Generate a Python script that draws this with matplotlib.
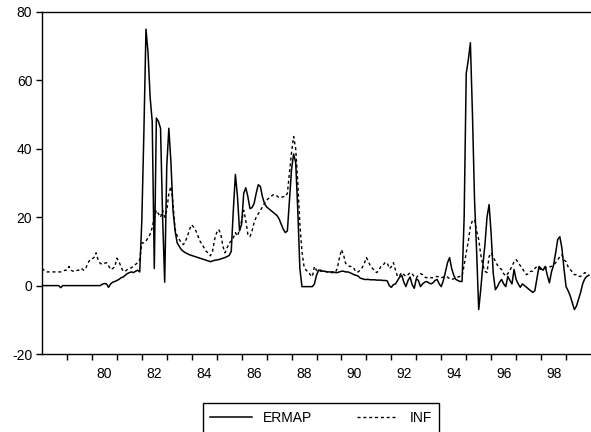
import numpy as np
import matplotlib
matplotlib.use("Agg")
import matplotlib.pyplot as plt
from matplotlib.lines import Line2D

# monthly values, 1978M01 - 1999M12, one row per year
ermap = [
    [0, 0, 0, 0, 0, 0, 0, 0, 0, -0.6, 0, 0],                               # 1978
    [0, 0, 0, 0, 0, 0, 0, 0, 0, 0, 0, 0],                                  # 1979
    [0, 0, 0, 0, 0, 0.4, 0.6, 0.5, -0.5, 0.5, 1.0, 1.2],                   # 1980
    [1.5, 1.8, 2.3, 2.5, 3.0, 3.5, 3.8, 4.0, 3.8, 4.2, 4.5, 4.0],          # 1981
    [19, 45, 75, 68, 55, 48, 5, 49, 48, 46, 20, 1],                        # 1982
    [35, 46, 36, 22, 16, 12.5, 11.5, 10.5, 10, 9.6, 9.3, 9.0],             # 1983
    [8.8, 8.6, 8.4, 8.2, 8.0, 7.8, 7.6, 7.4, 7.2, 7.0, 7.2, 7.4],          # 1984
    [7.5, 7.6, 7.8, 8, 8.2, 8.5, 8.8, 10, 22, 32.5, 26, 16],               # 1985
    [18, 27, 28.6, 26, 22.5, 22.8, 24, 27, 29.5, 29, 26, 24],              # 1986
    [23, 22.5, 22, 21.5, 21, 20.5, 19.5, 18, 16.5, 15.5, 16, 25],          # 1987
    [34, 38.5, 36, 22, 5, -0.3, -0.3, -0.3, -0.3, -0.3, -0.3, 0.5],        # 1988
    [3, 4.5, 4.5, 4.2, 4.2, 4, 4, 4, 4, 3.8, 3.8, 4],                      # 1989
    [4.2, 4.2, 4, 4, 3.8, 3.5, 3.2, 3, 2.8, 2.2, 2, 1.8],                  # 1990
    [1.8, 1.8, 1.7, 1.7, 1.7, 1.6, 1.6, 1.6, 1.5, 1.5, 1.4, 0],            # 1991
    [-0.5, 0.3, 0.5, 1.5, 2.5, 3, 1, -0.3, 1.5, 2.5, 0.3, -0.8],           # 1992
    [2, 1.5, -0.3, 0.5, 1, 1.2, 0.8, 0.5, 0.8, 1.5, 1.8, 0.5],             # 1993
    [-0.3, 1.5, 4, 6.7, 8.2, 5, 3, 1.8, 1.5, 1.2, 1.2, 20],                # 1994
    [62, 66, 71, 50, 25, 10, -7, -1, 6, 12, 20, 23.7],                     # 1995
    [15, 3.5, -1.2, -0.3, 1, 1.8, 0.5, -0.3, 2.7, 1.5, 0.5, 4.7],          # 1996
    [1.8, 0.5, -0.5, 0.5, 0, -0.5, -1, -1.5, -2, -1.5, 2, 5.6],            # 1997
    [5, 4.5, 5.6, 3, 0.8, 4, 6, 9.6, 13.5, 14.3, 11, 5],                   # 1998
    [-0.3, -1.5, -3, -5, -7, -6, -4, -2, 0.5, 2, 2.7, 3],                  # 1999
]

inf = [
    [5, 4.5, 4, 4, 4, 4, 4, 4, 4, 4, 4.2, 4.5],                            # 1978
    [4.5, 5.6, 4.5, 4.2, 4.2, 4.5, 4.5, 5, 4.5, 5, 6.5, 7.5],              # 1979
    [7.8, 8.2, 9.6, 7.5, 6.5, 6.2, 6.5, 6.7, 5.8, 4.7, 5, 5.5],            # 1980
    [8, 7, 5.5, 4.2, 4.2, 4.7, 5, 5.2, 5.8, 6.2, 6.7, 7.6],                # 1981
    [12.5, 12.5, 13, 14, 15, 17, 20, 22, 21, 20, 22, 20],                  # 1982
    [22, 27, 29, 24, 16.5, 14.5, 13.5, 12.5, 12, 13, 14.5, 16.5],          # 1983
    [17.8, 17, 16, 14.5, 13, 12, 11, 10, 9.5, 8.7, 10, 13.5],              # 1984
    [15.5, 16.4, 15, 11.5, 9.6, 11, 12.5, 13, 14, 15.5, 14.5, 16.4],       # 1985
    [19, 22, 19, 15, 14.3, 16, 18.4, 20, 21, 22, 23, 24],                  # 1986
    [25, 25.5, 26, 26.5, 26.6, 26.2, 25.7, 25.8, 26, 26, 27, 33],          # 1987
    [39, 43.6, 40, 30, 18, 10, 5.6, 4.5, 4, 3.2, 2.6, 5.6],                # 1988
    [4.5, 4, 4.2, 4.5, 4.2, 4, 4, 3.8, 3.8, 3.8, 5, 8],                    # 1989
    [10.5, 9, 6.5, 6, 5.6, 5.6, 5, 4, 4, 4.5, 5.3, 6.5],                   # 1990
    [8.2, 7, 5.6, 5, 4.2, 3.8, 4.5, 5.6, 6, 6.7, 6.7, 5],                  # 1991
    [5.5, 6.7, 4.5, 2.6, 3, 3.8, 3.2, 2.7, 3.2, 3.8, 3.5, 2.5],            # 1992
    [2.3, 3, 3.5, 3.2, 2.5, 2.3, 2.5, 2.3, 2.3, 2.5, 2.7, 2.5],            # 1993
    [2.3, 2.5, 2.7, 2.5, 2, 1.8, 2, 2.3, 2.5, 2.7, 2.7, 6],                # 1994
    [9.6, 13, 17.3, 19, 19.3, 16, 13.5, 9, 6, 4.2, 3.8, 8.5],              # 1995
    [9.6, 8.5, 7, 6, 5.2, 4.7, 3.5, 2.8, 3.5, 4.5, 5.6, 7],                # 1996
    [7.6, 6.8, 5.8, 5, 4, 3.2, 3.5, 4.2, 4.2, 5, 5.6, 5],                  # 1997
    [4.7, 5, 5.2, 5.4, 5.5, 5.6, 6, 6.7, 7.5, 8.5, 9, 7.5],                # 1998
    [7, 5.5, 4.7, 4, 3.2, 3.2, 2.7, 2.7, 3.2, 3.8, 3.5, 3.2],              # 1999
]

start_year = 1978
year_labels = ["80", "82", "84", "86", "88", "90", "92", "94", "96", "98"]
y_ticks = [-20, 0, 20, 40, 60, 80]

ermap = np.array(ermap, dtype=float).ravel()
inf = np.array(inf, dtype=float).ravel()
t = start_year + np.arange(len(ermap)) / 12.0

plt.rcParams['font.family'] = ['Liberation Sans', 'DejaVu Sans']
plt.rcParams['axes.unicode_minus'] = False

fig = plt.figure(figsize=(5.91, 4.32), dpi=100)
ax = fig.add_axes([42 / 591, 1 - 354 / 432, 549 / 591, 342 / 432])

ax.plot(t, ermap, color='black', lw=1.1, label='ERMAP')
ax.plot(t, inf, color='black', lw=1.0, dashes=(2.2, 2.0), label='INF')

ax.set_xlim(1978, 2000)
ax.set_ylim(-20, 80)

# year ticks on the boundaries, labels centred inside every other year
ax.set_xticks(np.arange(1979, 2000))
ax.set_xticklabels([])
ax.set_xticks([1980.5 + 2 * k for k in range(len(year_labels))], minor=True)
ax.set_xticklabels(year_labels, minor=True)
ax.tick_params(axis='x', which='major', direction='out', length=4, width=1)
ax.tick_params(axis='x', which='minor', length=0, pad=9, labelsize=10)

ax.set_yticks(y_ticks)
ax.tick_params(axis='y', direction='out', length=4, width=1, pad=3, labelsize=10)

ax.spines['right'].set_visible(False)
for side in ['left', 'top', 'bottom']:
    ax.spines[side].set_linewidth(1.0)

handles = [Line2D([], [], color='black', lw=1.1),
           Line2D([], [], color='black', lw=1.0, dashes=(2.2, 2.0))]
leg = fig.legend(handles, ['ERMAP', 'INF'], ncol=2, loc='center',
                 bbox_to_anchor=(321 / 591, 1 - 418 / 432), fontsize=10,
                 handlelength=3.0, handletextpad=0.8, columnspacing=3.2,
                 borderpad=0.55, fancybox=False, framealpha=1)
leg.get_frame().set_edgecolor('black')
leg.get_frame().set_linewidth(1.0)

plt.savefig('out.png', dpi=100)
plt.close()
